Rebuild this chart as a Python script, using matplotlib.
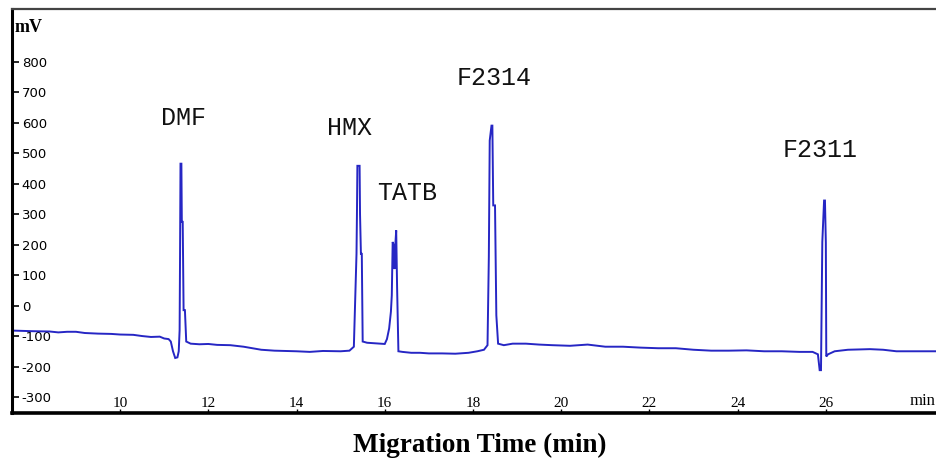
import matplotlib
matplotlib.use("Agg")
import matplotlib.pyplot as plt
import numpy as np

# Electropherogram trace (time in min, signal in mV)
time_min = [7.55, 8.0, 8.4, 8.6, 8.8, 9.0, 9.2, 9.5, 9.8, 10.0, 10.3, 10.5, 10.7, 10.9, 11.0, 11.1, 11.15,
            11.2, 11.25, 11.3, 11.33, 11.35, 11.36, 11.37, 11.39, 11.40, 11.42, 11.44, 11.47, 11.50,
            11.6, 11.8, 12.0, 12.2, 12.5, 12.8, 13.0, 13.2, 13.5, 14.0, 14.3, 14.6, 15.0, 15.2, 15.3,
            15.36, 15.37, 15.38, 15.43, 15.44, 15.46, 15.48, 15.5, 15.6, 15.8, 16.0, 16.05, 16.1, 16.14,
            16.16, 16.18, 16.2, 16.22, 16.24, 16.26, 16.28, 16.31, 16.4, 16.6, 16.8, 17.0, 17.3, 17.6,
            17.9, 18.1, 18.25, 18.33,
            18.36, 18.38, 18.42, 18.44, 18.46, 18.50, 18.53, 18.57, 18.7, 18.9, 19.2, 19.5, 19.8, 20.2,
            20.6, 21.0, 21.4, 21.8, 22.2, 22.6, 23.0, 23.4, 23.8, 24.2, 24.6, 25.0, 25.4, 25.7, 25.82,
            25.86, 25.89, 25.90, 25.92, 25.96, 25.98, 26.0, 26.01, 26.05, 26.2, 26.5, 27.0, 27.3, 27.6,
            28.0, 28.52]
signal_mv = [-82, -84, -85, -88, -86, -86, -90, -92, -93, -95, -96, -100, -103, -102, -108, -110, -118,
             -150, -172, -170, -150, -80, 175, 466, 466, 275, 275, -15, -15, -118,
             -125, -127, -126, -129, -130, -135, -140, -145, -148, -150, -152, -149, -150, -148, -135,
             170, 300, 459, 459, 300, 170, 170, -118, -122, -124, -126, -110, -75, -20,
             34, 209, 200, 120, 200, 247, 62, -150, -152, -155, -155, -157, -157, -158,
             -155, -150, -145, -130,
             160, 542, 591, 591, 329, 329, -32, -125, -130, -125, -125, -128, -130, -132,
             -128, -135, -135, -138, -140, -140, -145, -148, -148, -147, -150, -150, -152, -152, -160,
             -212, -212, -69, 209, 345, 345, 207, -167, -160, -150, -145, -143, -145, -150,
             -150, -150]

peak_names = ["DMF", "HMX", "TATB", "F2314", "F2311"]
peak_label_x = [11.43, 15.21, 16.50, 18.48, 25.86]
peak_label_y = [616, 583, 370, 747, 511]

y_ticks = [-300, -200, -100, 0, 100, 200, 300, 400, 500, 600, 700, 800]
x_ticks = [10, 12, 14, 16, 18, 20, 22, 24, 26]

fig = plt.figure(figsize=(9.37, 4.59), dpi=100)
ax = fig.add_axes([12/937, 1 - 413/459, (937 - 12)/937, (413 - 9)/459])
ax.set_xlim(7.55, 28.52)
ax.set_ylim(-352.7, 974)

ax.plot(time_min, signal_mv, color="#2626c4", lw=1.4, solid_joinstyle="miter")

for name, x, y in zip(peak_names, peak_label_x, peak_label_y):
    ax.text(x, y, name, ha="center", va="center", family="Liberation Mono",
            fontsize=18, color="#111111")

ax.spines["right"].set_visible(False)
ax.spines["left"].set_linewidth(2.2)
ax.spines["bottom"].set_linewidth(2.6)
ax.spines["top"].set_linewidth(1.6)
ax.spines["top"].set_color("#444444")

ax.set_yticks(y_ticks)
ax.set_yticklabels([str(v) for v in y_ticks])
ax.tick_params(axis="y", direction="in", length=5, width=1.2, pad=-7, labelsize=9.5)
for lbl in ax.get_yticklabels():
    lbl.set_ha("left")
    lbl.set_family("DejaVu Sans")

ax.set_xticks(x_ticks)
ax.set_xticklabels([str(v) for v in x_ticks])
ax.tick_params(axis="x", direction="in", length=3, width=1.0, pad=-2, labelsize=11)
for lbl in ax.get_xticklabels():
    lbl.set_va("bottom")
    lbl.set_family("Liberation Serif")

ax.text(0.003, 0.955, "mV", transform=ax.transAxes, family="Liberation Serif",
        fontsize=13, fontweight="bold", ha="left", va="center")
ax.annotate("min", xy=(28.2, 0), xycoords=("data", "axes fraction"),
            xytext=(0, 3), textcoords="offset points", ha="center", va="bottom",
            family="Liberation Serif", fontsize=12)

fig.text(480/937, 1 - 445/459, "Migration Time (min)", ha="center", va="center",
         family="Liberation Serif", fontweight="bold", fontsize=19.5)

fig.savefig("out.png", dpi=100)
